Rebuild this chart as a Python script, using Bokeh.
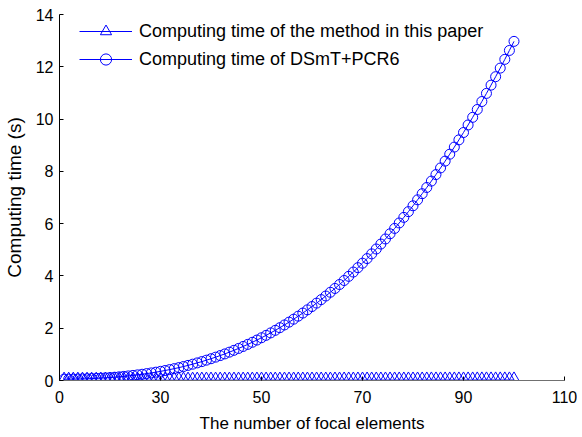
from bokeh.plotting import figure
from bokeh.models import FixedTicker, Legend, LegendItem, Range1d
from bokeh.embed import file_html
from bokeh.resources import INLINE

# ---- data ----
n_focal = list(range(1, 100))

time_this_paper = [
    0.010, 0.010, 0.010, 0.010, 0.010, 0.010, 0.010, 0.010, 0.010, 0.010,
    0.011, 0.011, 0.011, 0.011, 0.011, 0.011, 0.011, 0.011, 0.011, 0.011,
    0.012, 0.012, 0.012, 0.012, 0.012, 0.012, 0.012, 0.012, 0.012, 0.012,
    0.013, 0.013, 0.013, 0.013, 0.013, 0.013, 0.013, 0.013, 0.013, 0.013,
    0.014, 0.014, 0.014, 0.014, 0.014, 0.014, 0.014, 0.014, 0.014, 0.014,
    0.015, 0.015, 0.015, 0.015, 0.015, 0.015, 0.015, 0.015, 0.015, 0.015,
    0.016, 0.016, 0.016, 0.016, 0.016, 0.016, 0.016, 0.016, 0.016, 0.016,
    0.017, 0.017, 0.017, 0.017, 0.017, 0.017, 0.017, 0.017, 0.017, 0.017,
    0.018, 0.018, 0.018, 0.018, 0.018, 0.018, 0.018, 0.018, 0.018, 0.018,
    0.019, 0.019, 0.019, 0.019, 0.019, 0.019, 0.019, 0.019, 0.019,
]

time_dsmt_pcr6 = [
    0.050, 0.052, 0.054, 0.057, 0.062, 0.067, 0.074, 0.081, 0.091, 0.101,
    0.113, 0.126, 0.141, 0.157, 0.175, 0.195, 0.216, 0.239, 0.264, 0.290,
    0.319, 0.350, 0.382, 0.417, 0.454, 0.493, 0.534, 0.578, 0.624, 0.673,
    0.723, 0.777, 0.833, 0.892, 0.953, 1.017, 1.084, 1.154, 1.226, 1.302,
    1.381, 1.462, 1.547, 1.635, 1.727, 1.821, 1.919, 2.020, 2.125, 2.233,
    2.345, 2.461, 2.580, 2.703, 2.829, 2.960, 3.094, 3.232, 3.375, 3.521,
    3.672, 3.826, 3.985, 4.148, 4.316, 4.487, 4.664, 4.844, 5.030, 5.220,
    5.414, 5.613, 5.817, 6.026, 6.240, 6.459, 6.682, 6.911, 7.145, 7.383,
    7.627, 7.877, 8.131, 8.391, 8.657, 8.928, 9.204, 9.486, 9.774, 10.067,
    10.366, 10.671, 10.982, 11.298, 11.621, 11.949, 12.284, 12.625, 12.972,
]

x_tick_positions = [0, 22, 44, 66, 88, 110]
x_tick_labels = ["0", "30", "50", "70", "90", "110"]
y_ticks = [0, 2, 4, 6, 8, 10, 12, 14]

legend_labels = [
    "Computing time of the method in this paper",
    "Computing time of DSmT+PCR6",
]

FONT = "Liberation Sans"
BLUE = "#0000FF"

p = figure(
    frame_width=505, frame_height=366,
    x_range=Range1d(0, 110), y_range=Range1d(0, 14),
    output_backend="svg", toolbar_location=None,
    min_border_left=56, min_border_top=14, min_border_right=13, min_border_bottom=50,
)
p.outline_line_color = None
p.grid.visible = False
p.background_fill_color = "white"
p.border_fill_color = "white"

# series
l1 = p.line(n_focal, time_this_paper, line_color=BLUE, line_width=1)
s1 = p.scatter(n_focal, time_this_paper, marker="triangle", size=14,
               fill_color=None, line_color=BLUE, line_width=1)
l2 = p.line(n_focal, time_dsmt_pcr6, line_color=BLUE, line_width=1)
s2 = p.scatter(n_focal, time_dsmt_pcr6, marker="circle", size=10,
               fill_color=None, line_color=BLUE, line_width=1)

# axes
p.xaxis.ticker = FixedTicker(ticks=x_tick_positions)
p.xaxis.major_label_overrides = {t: l for t, l in zip(x_tick_positions, x_tick_labels)}
p.yaxis.ticker = FixedTicker(ticks=y_ticks)

for ax in (p.xaxis[0], p.yaxis[0]):
    ax.major_tick_in = 4
    ax.major_tick_out = 0
    ax.minor_tick_line_color = None
    ax.major_label_text_font = FONT
    ax.major_label_text_font_size = "16px"
    ax.major_label_text_color = "black"
    ax.axis_label_text_font = FONT
    ax.axis_label_text_font_style = "normal"
    ax.axis_label_text_color = "black"
    ax.major_tick_line_color = "black"

p.xaxis.axis_line_color = "#707070"
p.yaxis.axis_line_color = "black"
p.xaxis.axis_label = "The number of focal elements"
p.yaxis.axis_label = "Computing time (s)"
p.xaxis.axis_label_text_font_size = "17px"
p.yaxis.axis_label_text_font_size = "19px"
p.xaxis.major_label_standoff = 10
p.xaxis.axis_label_standoff = 8
p.yaxis.major_label_standoff = 6
p.yaxis.axis_label_standoff = 8

legend = Legend(
    items=[LegendItem(label=legend_labels[0], renderers=[l1, s1]),
           LegendItem(label=legend_labels[1], renderers=[l2, s2])],
    location=(20, 307),
    margin=0, padding=0,
    glyph_width=53, glyph_height=28, spacing=0, label_standoff=7,
    label_text_font=FONT, label_text_font_size="18px", label_text_color="black",
    border_line_color=None, background_fill_alpha=0,
)
p.add_layout(legend)

open("out.html", "w").write(file_html(p, INLINE))
